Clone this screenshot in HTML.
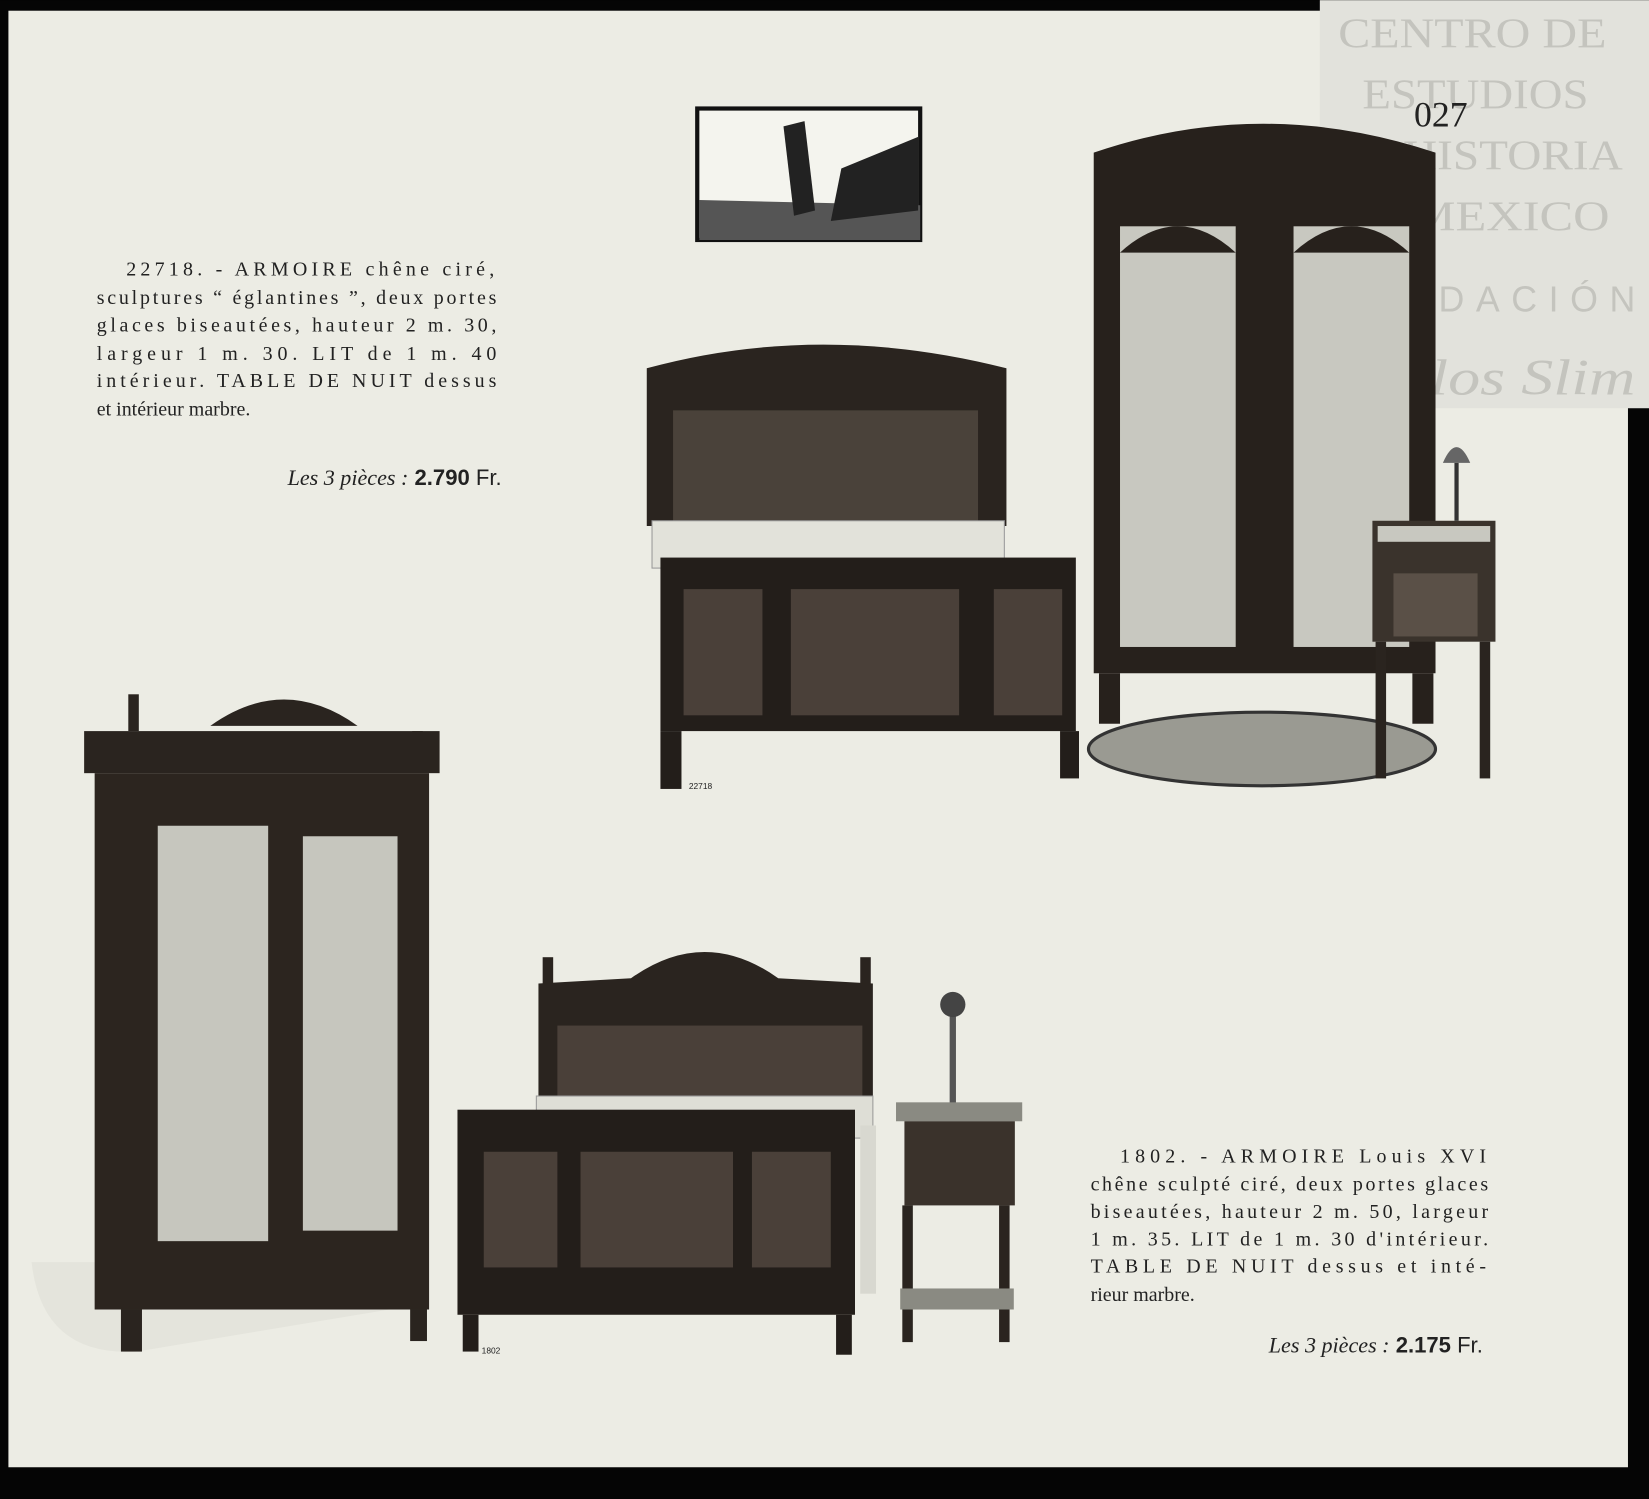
<!DOCTYPE html>
<html><head><meta charset="utf-8"><style>
html,body{margin:0;padding:0;background:#000;}
svg{display:block}
text{font-family:"Liberation Serif",serif;fill:#222}
.s{font-family:"Liberation Sans",sans-serif}
.w{fill:#c4c4be}
</style></head><body>
<svg width="1649" height="1499" viewBox="0 0 1568 1425" xmlns="http://www.w3.org/2000/svg">
<rect x="0" y="0" width="1568" height="1425" fill="#050505"/>
<rect x="8" y="10" width="1540" height="1385" fill="#ecece4"/>
<rect x="1255" y="0" width="313" height="388" fill="#e2e2dc"/>
<g text-anchor="middle">
<text class="w" x="1400" y="45" font-size="40" textLength="255" lengthAdjust="spacingAndGlyphs">CENTRO DE</text>
<text class="w" x="1403" y="103" font-size="40" textLength="215" lengthAdjust="spacingAndGlyphs">ESTUDIOS</text>
<text class="w" x="1403" y="161" font-size="40" textLength="280" lengthAdjust="spacingAndGlyphs">DE HISTORIA</text>
<text class="w" x="1398" y="219" font-size="40" textLength="265" lengthAdjust="spacingAndGlyphs">DE MEXICO</text>
<text class="w s" x="1410" y="296" font-size="34" textLength="290" lengthAdjust="spacing">FUNDACIÓN</text>
<text class="w" x="1410" y="375" font-size="48" font-style="italic" textLength="290" lengthAdjust="spacingAndGlyphs">Carlos Slim</text>
</g>
<text x="1370" y="120" font-size="34" text-anchor="middle" style="fill:#222">027</text>

<!-- vignette -->
<rect x="663" y="103" width="212" height="125" fill="#f4f4ee" stroke="#111" stroke-width="4"/>
<path d="M665 190 L875 195 L875 228 L665 228Z" fill="#555"/>
<path d="M800 160 L873 130 L873 200 L790 210Z" fill="#222"/>
<path d="M745 120 L765 115 L775 200 L755 205Z" fill="#222"/>

<!-- left text -->
<g font-size="19">
<text x="120" y="262" textLength="350" lengthAdjust="spacing">22718. - ARMOIRE chêne ciré,</text>
<text x="92" y="289" textLength="380" lengthAdjust="spacing">sculptures “ églantines ”, deux portes</text>
<text x="92" y="315" textLength="380" lengthAdjust="spacing">glaces biseautées, hauteur 2 m. 30,</text>
<text x="92" y="342" textLength="380" lengthAdjust="spacing">largeur 1 m. 30. LIT de 1 m. 40</text>
<text x="92" y="368" textLength="380" lengthAdjust="spacing">intérieur. TABLE DE NUIT dessus</text>
<text x="92" y="395">et intérieur marbre.</text>
<text x="477" y="461" text-anchor="end" class="s" font-size="21"><tspan font-style="italic" font-family="Liberation Serif">Les 3 pièces :</tspan> <tspan font-weight="bold">2.790</tspan> Fr.</text>
</g>
<g font-size="19">
<text x="1065" y="1105" textLength="348" lengthAdjust="spacing">1802. - ARMOIRE Louis XVI</text>
<text x="1037" y="1132" textLength="378" lengthAdjust="spacing">chêne sculpté ciré, deux portes glaces</text>
<text x="1037" y="1158" textLength="378" lengthAdjust="spacing">biseautées, hauteur 2 m. 50, largeur</text>
<text x="1037" y="1184" textLength="378" lengthAdjust="spacing">1 m. 35. LIT de 1 m. 30 d'intérieur.</text>
<text x="1037" y="1210" textLength="376" lengthAdjust="spacing">TABLE DE NUIT dessus et inté-</text>
<text x="1037" y="1237">rieur marbre.</text>
<text x="1410" y="1286" text-anchor="end" class="s" font-size="21"><tspan font-style="italic" font-family="Liberation Serif">Les 3 pièces :</tspan> <tspan font-weight="bold">2.175</tspan> Fr.</text>
</g>

<!-- top bed -->
<path d="M615 350 Q780 305 957 350 L957 500 L615 500Z" fill="#2a241f"/>
<rect x="640" y="390" width="290" height="105" fill="#4a423a"/>
<rect x="620" y="495" width="335" height="45" fill="#e2e2da" stroke="#999"/>
<rect x="628" y="530" width="395" height="165" fill="#231e1a"/>
<rect x="650" y="560" width="75" height="120" fill="#4a4039"/>
<rect x="752" y="560" width="160" height="120" fill="#4a4039"/>
<rect x="945" y="560" width="65" height="120" fill="#4a4039"/>
<rect x="628" y="695" width="20" height="55" fill="#231e1a"/><rect x="1008" y="695" width="18" height="45" fill="#231e1a"/>
<text x="655" y="750" class="s" font-size="8">22718</text>

<!-- top armoire -->
<ellipse cx="1200" cy="712" rx="165" ry="35" fill="#9a9a92" stroke="#333" stroke-width="3"/>
<path d="M1040 145 Q1200 90 1365 145 L1365 640 L1040 640Z" fill="#27211c"/>
<rect x="1065" y="215" width="110" height="400" fill="#c8c8c0"/>
<rect x="1230" y="215" width="110" height="400" fill="#c8c8c0"/>
<path d="M1065 240 Q1120 190 1175 240Z" fill="#27211c"/><path d="M1230 240 Q1285 190 1340 240Z" fill="#27211c"/>
<rect x="1045" y="640" width="20" height="48" fill="#27211c"/><rect x="1343" y="640" width="20" height="48" fill="#27211c"/>
<!-- top nightstand -->
<rect x="1305" y="495" width="117" height="115" fill="#3a332c"/>
<rect x="1310" y="500" width="107" height="15" fill="#c8c8c0"/>
<rect x="1325" y="545" width="80" height="60" fill="#5a5047"/>
<rect x="1308" y="610" width="10" height="130" fill="#2a241f"/><rect x="1407" y="610" width="10" height="130" fill="#2a241f"/>
<path d="M1372 440 Q1385 410 1398 440Z" fill="#666"/><rect x="1383" y="440" width="4" height="55" fill="#333"/>

<!-- bottom armoire -->
<path d="M30 1200 Q40 1290 130 1285 L400 1240 L400 1200Z" fill="#e4e4dc"/>
<path d="M200 690 Q270 640 340 690Z" fill="#2a241f"/>
<rect x="122" y="660" width="10" height="35" fill="#2a241f"/><rect x="392" y="695" width="10" height="25" fill="#2a241f"/>
<rect x="80" y="695" width="338" height="40" fill="#2a241f"/>
<rect x="90" y="735" width="318" height="510" fill="#2c251f"/>
<rect x="150" y="785" width="105" height="395" fill="#c6c6be"/>
<rect x="288" y="795" width="90" height="375" fill="#c6c6be"/>
<rect x="115" y="1245" width="20" height="40" fill="#2a241f"/><rect x="390" y="1245" width="16" height="30" fill="#2a241f"/>

<!-- bottom bed -->
<path d="M512 935 L600 930 Q670 880 740 930 L830 935 L830 1050 L512 1050Z" fill="#2a241f"/>
<rect x="516" y="910" width="10" height="25" fill="#2a241f"/><rect x="818" y="910" width="10" height="25" fill="#2a241f"/>
<rect x="530" y="975" width="290" height="70" fill="#4a4039"/>
<rect x="510" y="1042" width="320" height="40" fill="#deded6" stroke="#999"/>
<rect x="818" y="1070" width="15" height="160" fill="#d8d8d0"/>
<rect x="435" y="1055" width="378" height="195" fill="#231e1a"/>
<rect x="460" y="1095" width="70" height="110" fill="#4a4039"/>
<rect x="552" y="1095" width="145" height="110" fill="#4a4039"/>
<rect x="715" y="1095" width="75" height="110" fill="#4a4039"/>
<rect x="440" y="1250" width="15" height="35" fill="#231e1a"/><rect x="795" y="1250" width="15" height="38" fill="#231e1a"/>
<text x="458" y="1287" class="s" font-size="8">1802</text>

<!-- bottom nightstand -->
<rect x="903" y="960" width="6" height="95" fill="#555"/>
<circle cx="906" cy="955" r="12" fill="#444"/>
<rect x="852" y="1048" width="120" height="18" fill="#8a8a82"/>
<rect x="860" y="1066" width="105" height="80" fill="#3a322b"/>
<rect x="858" y="1146" width="10" height="130" fill="#2a241f"/><rect x="950" y="1146" width="10" height="130" fill="#2a241f"/>
<rect x="856" y="1225" width="108" height="20" fill="#8a8a82"/>
</svg>
</body></html>
